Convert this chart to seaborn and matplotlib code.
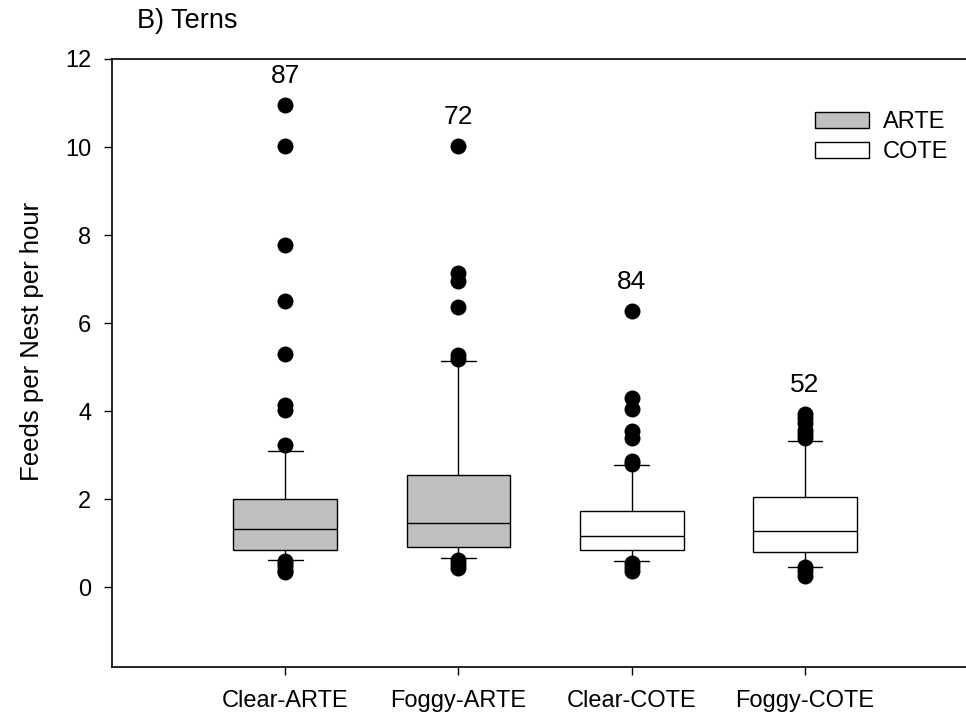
import matplotlib
matplotlib.use("Agg")
import matplotlib.pyplot as plt
import seaborn as sns
import pandas as pd
from matplotlib.patches import Patch

# box statistics (10th/90th percentile whiskers)
groups = ["Clear-ARTE", "Foggy-ARTE", "Clear-COTE", "Foggy-COTE"]
species = ["ARTE", "ARTE", "COTE", "COTE"]
q1 = [0.84, 0.92, 0.84, 0.81]
medians = [1.33, 1.47, 1.16, 1.28]
q3 = [2.00, 2.56, 1.73, 2.05]
whisLow = [0.63, 0.66, 0.60, 0.47]
whisHigh = [3.09, 5.13, 2.77, 3.32]
nObs = [87, 72, 84, 52]

outliers = {
    "Clear-ARTE": [10.95, 10.02, 7.78, 6.50, 5.30, 4.15, 4.02, 3.24, 0.60, 0.53, 0.45, 0.38, 0.35],
    "Foggy-ARTE": [10.02, 7.14, 6.95, 6.37, 5.28, 5.18, 0.62, 0.52, 0.43],
    "Clear-COTE": [6.28, 4.30, 4.04, 3.55, 3.38, 2.87, 2.80, 0.55, 0.45, 0.37],
    "Foggy-COTE": [3.94, 3.85, 3.72, 3.58, 3.48, 3.40, 0.45, 0.36, 0.26],
}

speciesColors = {"ARTE": "#c0c0c0", "COTE": "white"}

sns.set_style("ticks")
plt.rcParams["font.family"] = ["Liberation Sans", "DejaVu Sans"]
plt.rcParams.update({"text.color": "black", "axes.labelcolor": "black",
                     "xtick.color": "black", "ytick.color": "black"})

fig = plt.figure(figsize=(9.66, 7.19), dpi=100)
ax = fig.add_axes([0.116, 0.073, 0.884, 0.845])

flierDf = pd.DataFrame(
    [(g, v) for g in groups for v in outliers[g]], columns=["group", "value"]
)
sns.stripplot(data=flierDf, x="group", y="value", order=groups, jitter=False,
              color="black", size=11.5, linewidth=0, zorder=4, ax=ax)

stats = []
for i, g in enumerate(groups):
    stats.append({"label": g, "q1": q1[i], "med": medians[i], "q3": q3[i],
                  "whislo": whisLow[i], "whishi": whisHigh[i], "fliers": []})

bp = ax.bxp(stats, positions=range(len(groups)), widths=0.6, capwidths=0.2,
            patch_artist=True, showfliers=False, manage_ticks=False,
            boxprops=dict(edgecolor="black", linewidth=1.0),
            medianprops=dict(color="black", linewidth=1.0),
            whiskerprops=dict(color="black", linewidth=1.0),
            capprops=dict(color="black", linewidth=1.0))
for box, sp in zip(bp["boxes"], species):
    box.set_facecolor(speciesColors[sp])

for i, g in enumerate(groups):
    ax.annotate(str(nObs[i]), xy=(i, max(outliers[g])), xytext=(0, 21),
                textcoords="offset points", ha="center", va="center", fontsize=19)

ax.set_xlim(-1.0, 3.93)
ax.set_ylim(-1.8, 12)
ax.set_yticks([0, 2, 4, 6, 8, 10, 12])
ax.set_xticks(range(len(groups)))
ax.set_xticklabels(groups)
ax.set_xlabel("")
ax.set_ylabel("Feeds per Nest per hour", fontsize=18.5)
ax.yaxis.set_label_coords(-0.08, 0.535)
ax.tick_params(axis="both", labelsize=17, length=6, width=1.0, color="black")
ax.tick_params(axis="x", pad=11)
ax.tick_params(axis="y", pad=9)

for side in ["left", "bottom", "top"]:
    ax.spines[side].set_visible(True)
    ax.spines[side].set_color("black")
    ax.spines[side].set_linewidth(1.2)
ax.spines["right"].set_visible(False)

handles = [Patch(facecolor=speciesColors[s], edgecolor="black", linewidth=1.0, label=s)
           for s in ["ARTE", "COTE"]]
ax.legend(handles=handles, loc="upper left", bbox_to_anchor=(0.823, 0.914),
          frameon=False, fontsize=17, handlelength=2.28, handleheight=0.68,
          handletextpad=0.59, labelspacing=0.35, borderpad=0, borderaxespad=0)

fig.text(137 / 966, 1 - 21 / 719, "B) Terns", fontsize=19.5, va="center", ha="left")

fig.savefig("out.png", dpi=100)
